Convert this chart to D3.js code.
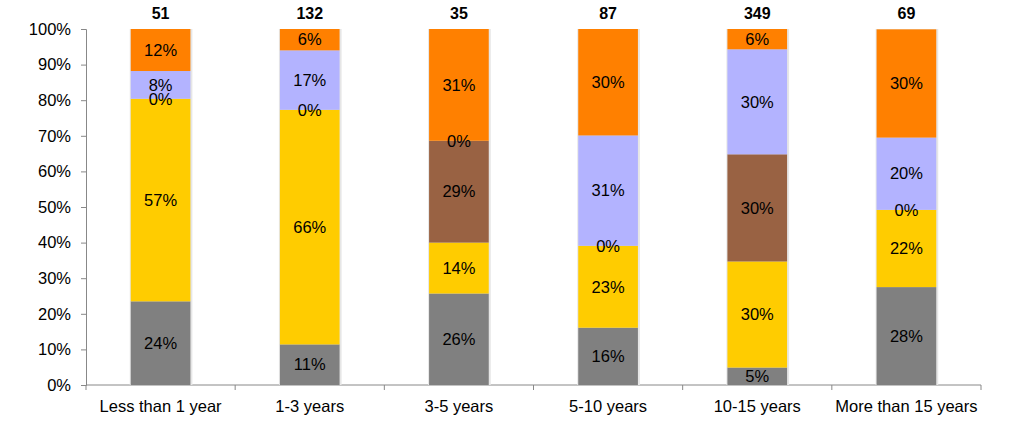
<!DOCTYPE html>
<html>
<head>
<meta charset="utf-8">
<script src="https://cdn.jsdelivr.net/npm/d3@7"></script>
<style>
  body { margin: 0; background: #fff; }
  svg { display: block; font-family: "Liberation Sans", Arial, sans-serif; }
  .axis path, .axis line { stroke: #888; }
  .axis text { fill: #000; font-size: 16.5px; }
</style>
</head>
<body>
<svg id="chart" width="1013" height="435"></svg>
<script>
// categories and respondent counts
const categories = ["Less than 1 year", "1-3 years", "3-5 years", "5-10 years", "10-15 years", "More than 15 years"];
const counts = [51, 132, 35, 87, 349, 69];

// series values in percent, bottom to top
const grey     = [23.5, 11.4, 25.7, 16.1, 4.9, 27.5];
const yellow   = [56.9, 65.9, 14.3, 23.0, 29.8, 21.7];
const brown    = [0, 0, 28.6, 0, 30.1, 0];
const lavender = [7.8, 16.7, 0, 31.0, 29.5, 20.3];
const orange   = [11.8, 6.0, 31.4, 29.9, 5.7, 30.4];

// lavender 0% in "3-5 years" is drawn; brown 0 shown where it appears
const showZero = {
  brown:    [true, true, false, true, false, true],
  lavender: [false, false, true, false, false, false]
};

const yTicks = [0, 10, 20, 30, 40, 50, 60, 70, 80, 90, 100];

const seriesDefs = [
  { key: "grey", values: grey, color: "#808080" },
  { key: "yellow", values: yellow, color: "#ffcc00" },
  { key: "brown", values: brown, color: "#996243" },
  { key: "lavender", values: lavender, color: "#b3b3ff" },
  { key: "orange", values: orange, color: "#ff8000" }
];

const svg = d3.select("#chart");
const margin = { left: 86, right: 32, top: 29, bottom: 50 };
const width = 1013, height = 435;

const x = d3.scaleBand()
  .domain(categories)
  .range([margin.left, width - margin.right])
  .paddingInner(0.6)
  .paddingOuter(0.3);

const y = d3.scaleLinear()
  .domain([0, 100])
  .range([height - margin.bottom, margin.top]);

// build rows for stacking
const rows = categories.map((c, i) => {
  const r = { cat: c };
  seriesDefs.forEach(s => r[s.key] = s.values[i]);
  return r;
});

const stack = d3.stack().keys(seriesDefs.map(s => s.key));
const stacked = stack(rows);

// y axis
svg.append("g")
  .attr("class", "axis")
  .attr("transform", `translate(${margin.left},0)`)
  .call(d3.axisLeft(y).tickValues(yTicks).tickFormat(d => d + "%").tickSize(5).tickSizeOuter(5).tickPadding(10));

// x axis, ticks at band boundaries
const step = x.step();
const xBounds = d3.range(categories.length + 1).map(i => margin.left + i * step);
const xAxis = svg.append("g").attr("class", "axis");
xAxis.append("line")
  .attr("x1", margin.left).attr("x2", xBounds[xBounds.length - 1])
  .attr("y1", y(0)).attr("y2", y(0));
xAxis.selectAll("line.tk")
  .data(xBounds)
  .enter().append("line")
  .attr("class", "tk")
  .attr("x1", d => d).attr("x2", d => d)
  .attr("y1", y(0)).attr("y2", y(0) + 5);
xAxis.selectAll("text")
  .data(categories)
  .enter().append("text")
  .attr("x", d => x(d) + x.bandwidth() / 2)
  .attr("y", 412)
  .attr("text-anchor", "middle")
  .text(d => d);

// bar shadows
svg.append("g")
  .selectAll("rect")
  .data(categories)
  .enter().append("rect")
  .attr("x", d => x(d) - 1)
  .attr("y", y(100))
  .attr("width", x.bandwidth() + 3)
  .attr("height", y(0) - y(100))
  .attr("fill", "#e6e6e6");

// bars
const layer = svg.append("g")
  .selectAll("g")
  .data(stacked)
  .enter().append("g")
  .attr("fill", (d, i) => seriesDefs[i].color);

layer.selectAll("rect")
  .data(d => d)
  .enter().append("rect")
  .attr("x", d => x(d.data.cat))
  .attr("y", d => y(d[1]))
  .attr("width", x.bandwidth())
  .attr("height", d => y(d[0]) - y(d[1]));

// value labels
stacked.forEach((s, si) => {
  const key = seriesDefs[si].key;
  s.forEach((d, i) => {
    const v = d[1] - d[0];
    const zeroOk = showZero[key] && showZero[key][i];
    if (v <= 0 && !zeroOk) return;
    svg.append("text")
      .attr("x", x(d.data.cat) + x.bandwidth() / 2)
      .attr("y", y((d[0] + d[1]) / 2))
      .attr("dy", "0.35em")
      .attr("text-anchor", "middle")
      .attr("font-size", "16.5px")
      .attr("fill", "#000")
      .text(Math.round(v) + "%");
  });
});

// respondent counts
svg.append("g")
  .selectAll("text")
  .data(categories)
  .enter().append("text")
  .attr("x", d => x(d) + x.bandwidth() / 2)
  .attr("y", 19)
  .attr("text-anchor", "middle")
  .attr("font-size", "16px")
  .attr("font-weight", "bold")
  .text((d, i) => counts[i]);
</script>
</body>
</html>
